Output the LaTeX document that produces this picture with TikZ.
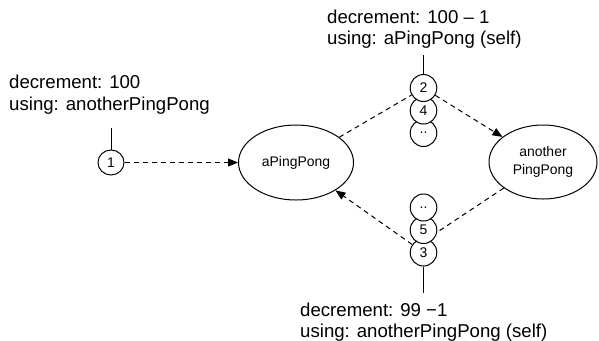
\documentclass[tikz,border=0pt]{standalone}
\usepackage{fontspec}
\setmainfont{Liberation Sans}
\usetikzlibrary{shapes.geometric,arrows.meta,backgrounds}
\begin{document}
\begin{tikzpicture}[x=1bp,y=-1bp,
  big/.style={draw,ellipse,line width=1bp,inner sep=0pt,align=center,font=\fontsize{14}{18}\selectfont},
  small/.style={draw,ellipse,fill=white,line width=1bp,inner sep=0pt,minimum width=26.6bp,minimum height=27bp,font=\fontsize{14}{16}\selectfont},
  lbl/.style={anchor=base west,inner sep=0pt,font=\fontsize{18.7}{21}\selectfont},
  msg/.style={line width=1bp,dash pattern=on 5bp off 4bp},
  tip/.style={-{Triangle[length=10bp,width=8bp]}},
  stem/.style={line width=1bp}]
\useasboundingbox (0,0) rectangle (599,340);

% labels
\node[lbl] (l1a) at (9,88.5) {decrement: 100};
\node[lbl] (l1b) at (9,110.5) {using: anotherPingPong};
\node[lbl] (l2a) at (327,23) {decrement: 100 – 1};
\node[lbl] (l2b) at (327,44) {using: aPingPong (self)};
\node[lbl] (l3a) at (300,316) {decrement: 99 −1};
\node[lbl] (l3b) at (300,337.5) {using: anotherPingPong (self)};

% actors
\node[big,minimum width=115bp,minimum height=75bp] (ap) at (296,162.5) {aPingPong};
\node[big,minimum width=108bp,minimum height=74bp] (an) at (543,162) {another\\PingPong};

% message circles
\node[small,minimum width=26bp,minimum height=25bp] (c1) at (111,162.5) {1};
\node[small] (ct) at (423.5,133) {..};
\node[small] (c4) at (423.5,110.5) {4};
\node[small] (c2) at (423.5,88) {2};
\node[small] (c3) at (423.5,252.5) {3};
\node[small] (c5) at (423.5,230) {5};
\node[small] (cb) at (423.5,207.5) {..};

\coordinate (s1) at (111,128);
\coordinate (s2) at (423.5,55);
\coordinate (s3) at (423.5,293);
\coordinate (m53) at (423.5,241.25);

\begin{pgfonlayer}{background}
\draw[stem] (c1) -- (s1);
\draw[stem] (c2) -- (s2);
\draw[stem] (c3) -- (s3);
\draw[msg,tip] (c1) -- (ap);
\draw[msg] (ap) -- (c2);
\draw[msg,tip] (c2) -- (an);
\draw[msg] (an) -- (m53);
\draw[msg,tip] (c3) -- (ap);
\end{pgfonlayer}
\end{tikzpicture}
\end{document}
